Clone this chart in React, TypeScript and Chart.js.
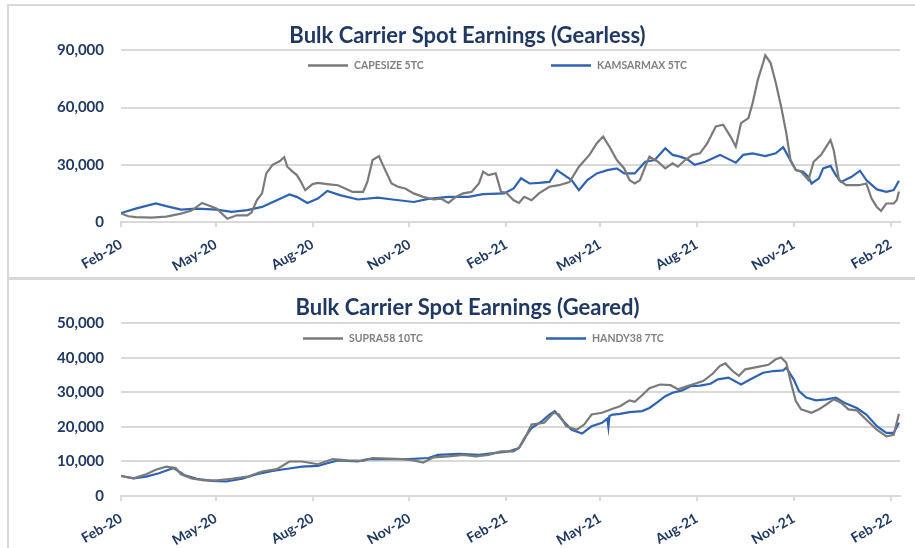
import React, { useEffect, useRef } from "react";
import { Chart, registerables } from "chart.js";

Chart.register(...registerables);

// x positions are days since 1 Feb 2020
const tickDays = [0, 90, 182, 274, 366, 455, 547, 639, 731];
const tickLabels = ["Feb-20", "May-20", "Aug-20", "Nov-20", "Feb-21", "May-21", "Aug-21", "Nov-21", "Feb-22"];

const capesizeDays = [0, 7, 14, 29, 43, 57, 67, 77, 84, 91, 101, 110, 120, 124, 129, 134, 138, 144, 151, 155, 158, 163, 167, 170, 175, 182, 187, 196, 206, 213, 220, 230, 234, 239, 245, 251, 257, 263, 270, 278, 287, 297, 304, 311, 318, 325, 333, 340, 344, 349, 356, 361, 366, 373, 378, 383, 390, 397, 407, 416, 426, 435, 445, 452, 458, 464, 471, 478, 483, 488, 493, 498, 502, 510, 517, 524, 529, 536, 543, 550, 557, 565, 572, 579, 584, 589, 596, 600, 605, 610, 612, 617, 622, 627, 632, 636, 641, 646, 653, 658, 665, 670, 674, 677, 682, 689, 701, 708, 713, 718, 722, 727, 734, 737, 739];
const capesizeValues = [4500, 3000, 2600, 2300, 2800, 4400, 6000, 10000, 8500, 7000, 1700, 3500, 3500, 5000, 11400, 15000, 25500, 30000, 32000, 34000, 29000, 26400, 24600, 22000, 16700, 19900, 20500, 19900, 19300, 17600, 15800, 15800, 21000, 32500, 34600, 27200, 20200, 18500, 17600, 15000, 13200, 11800, 12300, 10000, 13200, 15000, 15800, 20200, 26400, 24600, 25500, 15800, 15300, 11400, 10000, 13200, 11400, 15000, 18500, 19300, 21000, 29000, 35200, 41300, 44800, 39500, 32500, 28100, 22000, 20200, 22000, 29000, 34300, 31600, 28100, 30800, 29000, 32500, 35200, 36000, 41300, 50100, 51000, 44800, 39500, 51900, 54500, 62400, 74700, 83500, 87400, 83500, 73000, 60700, 46600, 32500, 27200, 26400, 22000, 31600, 35200, 39500, 43000, 37800, 22000, 19300, 19300, 20200, 12300, 7900, 5800, 9700, 9700, 11500, 16000];

const kamsarmaxDays = [0, 14, 33, 43, 57, 72, 91, 105, 120, 134, 148, 160, 167, 177, 187, 196, 208, 225, 244, 258, 278, 292, 311, 330, 344, 364, 373, 380, 388, 397, 407, 414, 421, 428, 435, 443, 452, 462, 471, 478, 488, 498, 507, 517, 524, 531, 538, 545, 555, 569, 584, 591, 600, 612, 622, 629, 634, 641, 648, 653, 656, 663, 667, 674, 679, 684, 694, 702, 708, 718, 727, 734, 739];
const kamsarmaxValues = [4700, 7000, 9700, 8300, 6500, 7000, 6500, 5300, 6200, 7900, 11400, 14400, 13200, 10000, 12300, 16300, 14100, 11800, 12800, 11800, 10500, 12100, 13200, 13200, 14600, 15000, 17600, 22900, 20200, 20500, 21000, 27200, 24600, 22000, 16700, 22000, 25500, 27200, 28100, 25500, 25500, 31600, 32500, 38700, 35200, 34300, 32900, 30000, 31600, 35200, 31100, 35200, 36000, 34600, 36000, 39200, 34300, 27200, 26400, 23700, 20200, 22900, 28100, 29400, 24600, 21000, 23700, 26900, 22000, 17100, 15800, 16700, 21600];

const supraDays = [0, 12, 24, 33, 43, 52, 57, 67, 79, 91, 105, 120, 134, 148, 160, 172, 187, 201, 215, 230, 239, 254, 268, 278, 287, 297, 311, 325, 337, 349, 361, 373, 378, 383, 390, 402, 411, 416, 423, 433, 440, 447, 457, 467, 474, 483, 488, 495, 502, 512, 522, 529, 536, 545, 553, 562, 569, 574, 581, 587, 593, 605, 615, 622, 627, 632, 636, 641, 646, 656, 663, 670, 677, 684, 691, 699, 708, 718, 727, 734, 739];
const supraValues = [5800, 5100, 6300, 7600, 8500, 8100, 6300, 5100, 4500, 4500, 5000, 5600, 7100, 7800, 10000, 10000, 9200, 10700, 10300, 10200, 11000, 10800, 10700, 10300, 9700, 11200, 11500, 11900, 11500, 11900, 12900, 12900, 13900, 16300, 20700, 21200, 24100, 23600, 20200, 19200, 20700, 23600, 24100, 25300, 26000, 27700, 27300, 29200, 31200, 32300, 32100, 30900, 31600, 32500, 33300, 35400, 37700, 38400, 36200, 34800, 36700, 37400, 38000, 39600, 40100, 38600, 33300, 27500, 25100, 24100, 25100, 26500, 28000, 27000, 25100, 24800, 22100, 19200, 17300, 17700, 23800];

const handyDays = [0, 12, 24, 36, 50, 60, 72, 86, 100, 115, 129, 144, 158, 172, 187, 196, 206, 225, 234, 254, 273, 292, 301, 321, 340, 354, 368, 378, 383, 390, 400, 407, 412, 419, 428, 438, 447, 457, 462, 463, 464, 467, 474, 483, 495, 502, 510, 517, 524, 533, 541, 550, 560, 567, 577, 589, 598, 610, 620, 629, 632, 639, 644, 651, 660, 670, 679, 687, 699, 708, 718, 727, 734, 739];
const handyValues = [5800, 5100, 5600, 6600, 8100, 6100, 5000, 4400, 4200, 5000, 6300, 7300, 7900, 8500, 8700, 9500, 10300, 10000, 10700, 10700, 10700, 11000, 11900, 12200, 11900, 12400, 12900, 13900, 16600, 19700, 21700, 23600, 24600, 22100, 19200, 18100, 20200, 21200, 22400, 20000, 23200, 23600, 23800, 24300, 24600, 25500, 27300, 28900, 29900, 30600, 31800, 32000, 32500, 33800, 34300, 32300, 33800, 35700, 36200, 36400, 37200, 33800, 30400, 28500, 27700, 28000, 28500, 27000, 25500, 23600, 20200, 18300, 18300, 21200];

const GRAY = "#7a7a7a";
const BLUE = "#2e63b4";
const NAVY = "#1f3864";
const GRID = "#d9d9d9";
const FONT = "Lato, 'Open Sans', sans-serif";

const pts = (xs: number[], ys: number[]) => xs.map((x, i) => ({ x, y: ys[i] }));

const lineLegend = {
  id: "lineLegend",
  afterDatasetsDraw(chart: any, _args: any, o: any) {
    const { ctx, chartArea } = chart;
    ctx.save();
    chart.data.datasets.forEach((ds: any, i: number) => {
      const x0 = chartArea.left + o.start + i * o.slot;
      const y = chartArea.top + o.dy;
      ctx.strokeStyle = ds.borderColor;
      ctx.lineWidth = 2.5;
      ctx.beginPath();
      ctx.moveTo(x0, y);
      ctx.lineTo(x0 + o.len, y);
      ctx.stroke();
      ctx.fillStyle = o.color;
      ctx.font = `bold 10.5px ${FONT}`;
      ctx.textBaseline = "middle";
      ctx.textAlign = "left";
      ctx.fillText(ds.label, x0 + o.len + o.gap, y + 0.5);
    });
    ctx.restore();
  },
};

interface Spec {
  title: string;
  names: string[];
  series: { x: number; y: number }[][];
  yMax: number;
  yStep: number;
  titleTop: number;
  titleBottom: number;
  xHeight: number;
  legendStart: number;
}

function makeConfig(s: Spec): any {
  const colors = [GRAY, BLUE];
  return {
    type: "line",
    data: {
      datasets: s.series.map((d, i) => ({
        label: s.names[i],
        data: d,
        borderColor: colors[i],
        backgroundColor: colors[i],
        borderWidth: 2.2,
        pointRadius: 0,
        tension: 0,
        fill: false,
      })),
    },
    options: {
      responsive: false,
      animation: false,
      layout: { padding: { left: 26, right: 15, top: s.titleTop, bottom: 0 } },
      plugins: {
        legend: { display: false },
        tooltip: { enabled: false },
        title: {
          display: true,
          text: s.title,
          color: NAVY,
          font: { family: FONT, size: 22, weight: "bold", lineHeight: 1.2 },
          padding: { top: 0, bottom: s.titleBottom },
        },
        lineLegend: { start: s.legendStart, slot: 243, len: 40, gap: 6, dy: 15, color: "#7f7f7f" },
      },
      scales: {
        x: {
          type: "linear",
          min: 0,
          max: 740,
          afterBuildTicks: (scale: any) => {
            scale.ticks = tickDays.map((v) => ({ value: v }));
          },
          afterFit: (scale: any) => {
            scale.height = s.xHeight;
          },
          ticks: {
            autoSkip: false,
            maxRotation: 30,
            minRotation: 30,
            padding: 9,
            color: NAVY,
            font: { family: FONT, size: 14, weight: "bold" },
            callback: (_v: any, i: number) => tickLabels[i],
          },
          grid: { display: true, drawOnChartArea: false, drawTicks: true, tickLength: 5, color: GRID, lineWidth: 2 },
          border: { display: true, color: GRID, width: 2 },
        },
        y: {
          min: 0,
          max: s.yMax,
          afterFit: (scale: any) => {
            scale.width = 86;
          },
          ticks: {
            stepSize: s.yStep,
            padding: 17,
            color: NAVY,
            font: { family: FONT, size: 15, weight: "bold" },
            callback: (v: any) => Number(v).toLocaleString("en-US"),
          },
          grid: { color: GRID, lineWidth: 2, drawTicks: false },
          border: { display: false },
        },
      },
    },
    plugins: [lineLegend],
  };
}

function ChartCanvas({ spec, left, top, width, height }: { spec: Spec; left: number; top: number; width: number; height: number }) {
  const ref = useRef<HTMLCanvasElement>(null);
  useEffect(() => {
    if (!ref.current) return;
    const chart = new Chart(ref.current, makeConfig(spec));
    return () => chart.destroy();
  }, []);
  return (
    <canvas
      ref={ref}
      width={width}
      height={height}
      style={{ position: "absolute", left, top, width, height }}
    />
  );
}

const gearless: Spec = {
  title: "Bulk Carrier Spot Earnings (Gearless)",
  names: ["CAPESIZE 5TC", "KAMSARMAX 5TC"],
  series: [pts(capesizeDays, capesizeValues), pts(kamsarmaxDays, kamsarmaxValues)],
  yMax: 90000,
  yStep: 30000,
  titleTop: 17,
  titleBottom: 1,
  xHeight: 54,
  legendStart: 187,
};

const geared: Spec = {
  title: "Bulk Carrier Spot Earnings (Geared)",
  names: ["SUPRA58 10TC", "HANDY38 7TC"],
  series: [pts(supraDays, supraValues), pts(handyDays, handyValues)],
  yMax: 50000,
  yStep: 10000,
  titleTop: 15,
  titleBottom: 2,
  xHeight: 52,
  legendStart: 182,
};

export default function App() {
  return (
    <div style={{ position: "absolute", left: 0, top: 0, width: 915, height: 548, overflow: "hidden", background: "#fff" }}>
      <div style={{ position: "absolute", left: 7, top: 4, width: 930, height: 271, border: `2px solid ${GRID}` }} />
      <div style={{ position: "absolute", left: 7, top: 278, width: 930, height: 280, border: `2px solid ${GRID}` }} />
      <ChartCanvas spec={gearless} left={9} top={6} width={906} height={270} />
      <ChartCanvas spec={geared} left={9} top={280} width={906} height={268} />
    </div>
  );
}
